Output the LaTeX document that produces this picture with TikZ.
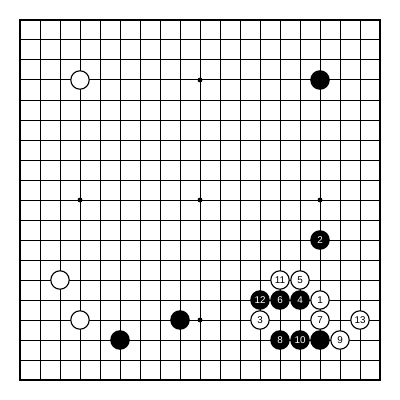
\documentclass[tikz,border=0pt]{standalone}
\usepackage{fontspec}
\setmainfont{Liberation Sans}
\tikzstyle{stone-base}=[circle,
                        draw=black,
                        line width=0.8pt,
                        inner sep=0pt,
                        minimum size=0.46cm,
                        font=\fontsize{7}{8}\selectfont,
                       ]
\tikzstyle{white-stone}=[stone-base, fill=white, text=black]
\tikzstyle{black-stone}=[stone-base, fill=black, text=white]
\tikzstyle{star-point}=[circle, fill=black, inner sep=0pt, minimum size=0.12cm]

\begin{document}
\begin{tikzpicture}[x=0.5cm, y=0.5cm]
\useasboundingbox[fill=white] (-1,-1) rectangle (19,19);

\foreach \k in {1,...,17} {
  \draw[line width=0.7pt] (\k,0) -- (\k,18);
  \draw[line width=0.7pt] (0,\k) -- (18,\k);
}
\draw[line width=1.5pt] (0,0) rectangle (18,18);

\foreach \sx in {3,9,15}
  \foreach \sy in {3,9,15}
    \node at (\sx,\sy) (star_\sx_\sy) [star-point] {};

\node at (3, 15)  (white_a)  [white-stone] {};
\node at (2, 5)   (white_b)  [white-stone] {};
\node at (3, 3)   (white_c)  [white-stone] {};
\node at (15, 15) (black_a)  [black-stone] {};
\node at (5, 2)   (black_b)  [black-stone] {};
\node at (8, 3)   (black_c)  [black-stone] {};
\node at (15, 2)  (black_d)  [black-stone] {};

\node at (15, 4)  (move1)    [white-stone] {1};
\node at (15, 7)  (move2)    [black-stone] {2};
\node at (12, 3)  (move3)    [white-stone] {3};
\node at (14, 4)  (move4)    [black-stone] {4};
\node at (14, 5)  (move5)    [white-stone] {5};
\node at (13, 4)  (move6)    [black-stone] {6};
\node at (15, 3)  (move7)    [white-stone] {7};
\node at (13, 2)  (move8)    [black-stone] {8};
\node at (16, 2)  (move9)    [white-stone] {9};
\node at (14, 2)  (move10)   [black-stone] {10};
\node at (13, 5)  (move11)   [white-stone] {11};
\node at (12, 4)  (move12)   [black-stone] {12};
\node at (17, 3)  (move13)   [white-stone] {13};
\end{tikzpicture}
\end{document}
